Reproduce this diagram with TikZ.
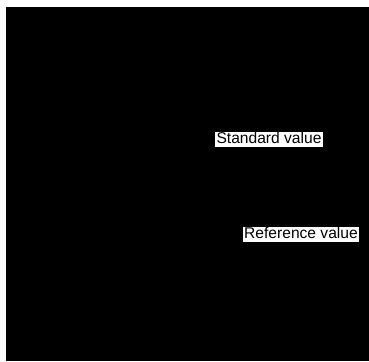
\documentclass[tikz,border=0pt]{standalone}
\usepackage{fontspec}
\setmainfont{Liberation Sans}
\begin{document}
\begin{tikzpicture}[x=1pt,y=1pt,
  lbl/.style={fill=white,text=black,inner xsep=1.5pt,inner ysep=0pt,minimum height=15pt,
    font=\fontsize{15.6}{15.6}\selectfont, text height=11.3pt, text depth=3.2pt}]
\useasboundingbox (0,0) rectangle (369,361);
\fill[black] (6,0) rectangle (369,354);
\node[lbl] (std) at (269,221.5) {Standard value};
\node[lbl] (ref) at (301,126.5) {Reference value};
\end{tikzpicture}
\end{document}
